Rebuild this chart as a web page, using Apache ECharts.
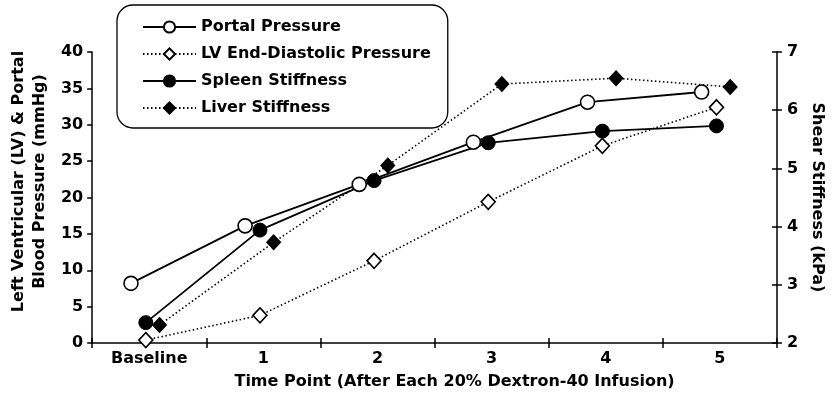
<!DOCTYPE html>
<html>
<head>
<meta charset="utf-8">
<script src="https://cdn.jsdelivr.net/npm/echarts@6/dist/echarts.min.js"></script>
<style>
  html, body { margin: 0; padding: 0; background: #fff; }
  #myChart { width: 833px; height: 403px; }
</style>
</head>
<body>
<div id="myChart"></div>
<script>
  // time points on the x axis
  var categories = ['Baseline', '1', '2', '3', '4', '5'];
  // left axis (mmHg)
  var portalPressure = [8.2, 16.1, 21.8, 27.6, 33.1, 34.5];
  var lvEndDiastolic = [0.4, 3.8, 11.3, 19.4, 27.1, 32.4];
  // right axis (kPa)
  var spleenStiffness = [2.35, 3.94, 4.79, 5.44, 5.64, 5.73];
  var liverStiffness = [2.31, 3.73, 5.05, 6.45, 6.55, 6.40];

  var FONT = 'DejaVu Sans';

  // small horizontal shift per series so the markers don't sit on top of each other
  function place(values, shift) {
    var out = [];
    for (var i = 0; i < values.length; i++) {
      out.push([i + shift, values[i]]);
    }
    return out;
  }

  var dotted = { type: [1.5, 2.5], width: 1.6, color: '#000' };
  var solid = { type: 'solid', width: 1.8, color: '#000' };

  var myChart = echarts.init(document.getElementById('myChart'));
  myChart.setOption({
    animation: false,
    textStyle: { fontFamily: FONT, fontWeight: 'bold', color: '#000' },
    grid: { left: 91, right: 45, top: 52, bottom: 60, containLabel: false },
    legend: {
      orient: 'vertical',
      left: 117,
      top: 5,
      padding: [14, 17, 12, 25],
      itemWidth: 53,
      itemHeight: 14,
      itemGap: 11,
      borderColor: '#000',
      borderWidth: 1.3,
      borderRadius: 16,
      textStyle: { fontFamily: FONT, fontWeight: 'bold', fontSize: 16, color: '#000' },
      data: ['Portal Pressure', 'LV End-Diastolic Pressure', 'Spleen Stiffness', 'Liver Stiffness']
    },
    xAxis: [
      {
        type: 'category',
        data: categories,
        boundaryGap: true,
        name: 'Time Point (After Each 20% Dextron-40 Infusion)',
        nameLocation: 'middle',
        nameGap: 31,
        nameTextStyle: { fontFamily: FONT, fontWeight: 'bold', fontSize: 16, color: '#000', padding: [0, 0, 0, 40] },
        axisLine: { onZero: false, lineStyle: { color: '#000', width: 1.5 } },
        axisTick: { show: true, length: 5, lineStyle: { color: '#000', width: 1.5 } },
        axisLabel: { margin: 8, fontFamily: FONT, fontWeight: 'bold', fontSize: 16, color: '#000' },
        splitLine: { show: false }
      },
      {
        type: 'value',
        min: -0.5,
        max: 5.5,
        show: false
      },
      {
        type: 'category',
        data: categories,
        position: 'bottom',
        axisLine: { show: false, onZero: false },
        axisTick: { show: true, inside: true, length: 5, lineStyle: { color: '#000', width: 1.5 } },
        axisLabel: { show: false },
        splitLine: { show: false }
      }
    ],
    yAxis: [
      {
        type: 'value',
        min: 0,
        max: 40,
        interval: 5,
        position: 'left',
        name: 'Left Ventricular (LV) & Portal\nBlood Pressure (mmHg)',
        nameLocation: 'middle',
        nameGap: 40,
        nameTextStyle: { fontFamily: FONT, fontWeight: 'bold', fontSize: 16, lineHeight: 21, color: '#000', padding: [0, 0, 0, 32] },
        axisLine: { show: true, onZero: false, lineStyle: { color: '#000', width: 1.5 } },
        axisTick: { show: true, length: 5, lineStyle: { color: '#000', width: 1.5 } },
        axisLabel: { margin: 9, fontFamily: FONT, fontWeight: 'bold', fontSize: 16, color: '#000' },
        splitLine: { show: false }
      },
      {
        type: 'value',
        min: 2,
        max: 7,
        interval: 1,
        position: 'right',
        name: 'Shear Stiffness (kPa)',
        nameLocation: 'middle',
        nameRotate: -90,
        nameGap: 24,
        nameTextStyle: { fontFamily: FONT, fontWeight: 'bold', fontSize: 16, color: '#000' },
        axisLine: { show: true, onZero: false, lineStyle: { color: '#000', width: 1.5 } },
        axisTick: { show: true, length: 5, lineStyle: { color: '#000', width: 1.5 } },
        axisLabel: { margin: 10, fontFamily: FONT, fontWeight: 'bold', fontSize: 16, color: '#000' },
        splitLine: { show: false }
      },
      {
        type: 'value',
        min: 2,
        max: 7,
        interval: 1,
        position: 'right',
        offset: 0,
        axisLine: { show: false, onZero: false },
        axisTick: { show: true, inside: true, length: 5, lineStyle: { color: '#000', width: 1.5 } },
        axisLabel: { show: false },
        splitLine: { show: false }
      }
    ],
    series: [
      {
        name: 'Portal Pressure',
        type: 'line',
        xAxisIndex: 1,
        yAxisIndex: 0,
        data: place(portalPressure, -0.16),
        symbol: 'circle',
        symbolSize: 14,
        lineStyle: solid,
        itemStyle: { color: '#fff', borderColor: '#000', borderWidth: 1.6 }
      },
      {
        name: 'LV End-Diastolic Pressure',
        type: 'line',
        xAxisIndex: 1,
        yAxisIndex: 0,
        data: place(lvEndDiastolic, -0.03),
        symbol: 'diamond',
        symbolSize: [14, 15],
        lineStyle: dotted,
        itemStyle: { color: '#fff', borderColor: '#000', borderWidth: 1.6 }
      },
      {
        name: 'Spleen Stiffness',
        type: 'line',
        xAxisIndex: 1,
        yAxisIndex: 1,
        data: place(spleenStiffness, -0.03),
        symbol: 'circle',
        symbolSize: 14,
        lineStyle: solid,
        itemStyle: { color: '#000', borderColor: '#000', borderWidth: 1 }
      },
      {
        name: 'Liver Stiffness',
        type: 'line',
        xAxisIndex: 1,
        yAxisIndex: 1,
        data: place(liverStiffness, 0.09),
        symbol: 'diamond',
        symbolSize: [14, 15],
        lineStyle: dotted,
        itemStyle: { color: '#000', borderColor: '#000', borderWidth: 1 }
      }
    ]
  });
</script>
</body>
</html>
